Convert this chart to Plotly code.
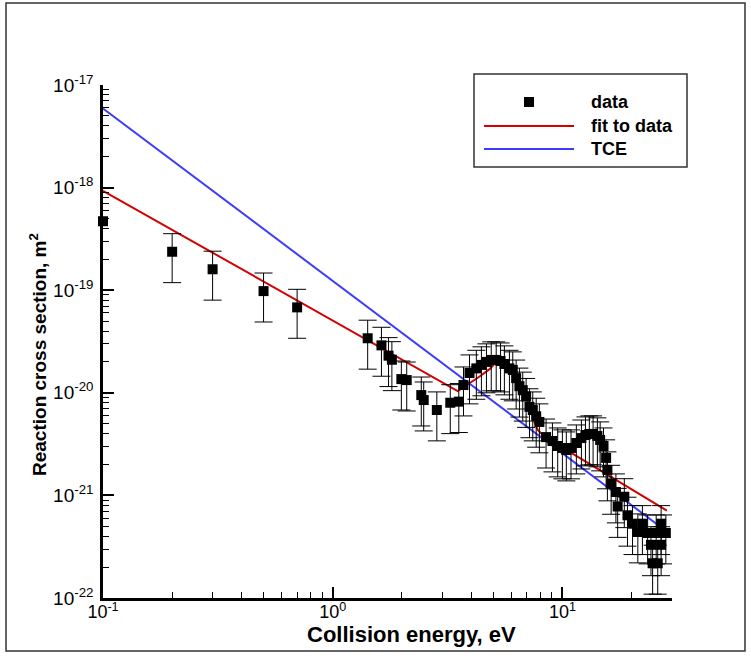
import plotly.graph_objects as go
import math

# ---------------- data ----------------
energy = [0.1, 0.2, 0.3, 0.5, 0.7,
          1.42, 1.63, 1.75, 1.81, 1.99, 2.10, 2.43, 2.49, 2.84, 3.25, 3.54,
          3.71, 3.94, 4.22, 4.44, 4.67, 4.90, 5.15, 5.38, 5.59, 5.88, 6.08,
          6.29, 6.50, 6.72, 6.95, 7.19, 7.43, 7.69, 7.94, 8.49,
          9.05, 9.54, 10.0, 10.4, 10.9, 11.5, 12.1, 12.6, 13.1, 13.6, 14.2,
          14.6, 15.1, 15.5, 15.7, 16.3, 17.1, 17.4, 18.6, 19.2, 20.2, 21.3,
          22.3, 23.5, 24.3, 24.7, 25.6, 26.0, 26.9, 26.9, 28.2]
sigma = [4.7e-19, 2.37e-19, 1.6e-19, 9.8e-20, 6.8e-20,
         3.4e-20, 2.9e-20, 2.3e-20, 2.1e-20, 1.36e-20, 1.33e-20, 9.5e-21, 8.5e-21,
         6.8e-21, 8.0e-21, 8.2e-21,
         1.19e-20, 1.56e-20, 1.73e-20, 1.87e-20, 2.0e-20, 2.09e-20, 2.09e-20,
         2.04e-20, 1.91e-20, 1.73e-20, 1.67e-20, 1.39e-20, 1.16e-20, 1.06e-20,
         9.2e-21, 7.3e-21, 6.8e-21, 5.9e-21, 5.2e-21, 3.7e-21,
         3.39e-21, 3.03e-21, 2.9e-21, 2.77e-21, 2.9e-21, 3.24e-21, 3.62e-21,
         3.88e-21, 3.97e-21, 3.97e-21, 3.8e-21, 3.47e-21, 3.03e-21, 2.32e-21,
         1.77e-21, 1.31e-21, 1.08e-21, 7.8e-22, 9.7e-22, 6.4e-22, 5.3e-22,
         4.4e-22, 5.3e-22, 4.3e-22, 3.3e-22, 2.18e-22, 4.3e-22, 2.18e-22,
         5.3e-22, 3.3e-22, 4.3e-22]
error_percent = 50

fit_energy = [0.1, 3.5, 4.36, 4.82, 5.28, 5.88, 6.5, 6.95, 7.31, 7.55, 7.81,
              8.21, 9.07, 28.5]
fit_sigma = [9.3e-19, 1.04e-20, 1.44e-20, 1.7e-20, 2.12e-20, 1.73e-20, 1.19e-20,
             9.2e-21, 6.8e-21, 5.2e-21, 4.34e-21, 3.88e-21, 3.34e-21, 7.1e-22]

tce_energy = [0.1, 29.0]
tce_sigma = [5.9e-18, 4.3e-22]

x_tickvals = [0.1, 1, 10]
x_ticktext = ["10<sup>-1</sup>", "10<sup>0</sup>", "10<sup>1</sup>"]
y_tickvals = [1e-22, 1e-21, 1e-20, 1e-19, 1e-18, 1e-17]
y_ticktext = ["10<sup>-22</sup>", "10<sup>-21</sup>", "10<sup>-20</sup>",
              "10<sup>-19</sup>", "10<sup>-18</sup>", "10<sup>-17</sup>"]

legend_labels = ["data", "fit to data", "TCE"]

FONT = "Liberation Sans, Arial, Helvetica, sans-serif"
RED = "#d40000"
BLUE = "#3c3cff"

fig = go.Figure()

fig.add_trace(go.Scatter(x=fit_energy, y=fit_sigma, mode="lines",
                         line=dict(color=RED, width=2), name=legend_labels[1],
                         showlegend=False))
fig.add_trace(go.Scatter(x=tce_energy, y=tce_sigma, mode="lines",
                         line=dict(color=BLUE, width=2), name=legend_labels[2],
                         showlegend=False))
# data with error bars
fig.add_trace(go.Scatter(x=energy[1:], y=sigma[1:], mode="markers",
                         marker=dict(symbol="square", size=10, color="black"),
                         error_y=dict(type="percent", value=error_percent,
                                      color="black", thickness=1, width=9),
                         name=legend_labels[0], showlegend=False,
                         cliponaxis=False))
fig.add_trace(go.Scatter(x=energy[:1], y=sigma[:1], mode="markers",
                         marker=dict(symbol="square", size=10, color="black"),
                         name=legend_labels[0], showlegend=False,
                         cliponaxis=False))

x_minor = [m * 10 ** e for e in range(-1, 2) for m in range(2, 10) if m * 10 ** e <= 30]
y_minor = [m * 10.0 ** e for e in range(-22, -17) for m in range(2, 10)]

fig.update_xaxes(type="log", range=[-1, math.log10(30)],
                 tickmode="array", tickvals=x_tickvals, ticktext=x_ticktext,
                 ticks="inside", ticklen=11, tickwidth=2, tickcolor="black",
                 minor=dict(tickmode="array", tickvals=x_minor, ticks="inside",
                            ticklen=6, tickwidth=1, tickcolor="black"),
                 showline=True, linecolor="black", linewidth=2.5,
                 showgrid=False, zeroline=False, ticklabelstandoff=-4,
                 tickfont=dict(family=FONT, size=18, color="black"))
fig.update_yaxes(type="log", range=[-22, -17],
                 tickmode="array", tickvals=y_tickvals, ticktext=y_ticktext,
                 ticks="inside", ticklen=11, tickwidth=2, tickcolor="black",
                 minor=dict(tickmode="array", tickvals=y_minor, ticks="inside",
                            ticklen=6, tickwidth=1, tickcolor="black"),
                 showline=True, linecolor="black", linewidth=2.5,
                 showgrid=False, zeroline=False, ticklabelstandoff=3,
                 tickfont=dict(family=FONT, size=19, color="black"))

# ---- layout geometry helpers (plot area 103..672 x 85..598 px) ----
L, R, T, B = 103, 672, 85, 598
def px(xp):
    return (xp - L) / (R - L)
def py(yp):
    return (B - yp) / (B - T)

shapes = [
    # outer frame
    dict(type="rect", xref="paper", yref="paper", x0=px(6), x1=px(745),
         y0=py(651), y1=py(3), line=dict(color="#333333", width=1.5)),
    # legend box
    dict(type="rect", xref="paper", yref="paper", x0=px(474), x1=px(687),
         y0=py(167), y1=py(74), line=dict(color="#333333", width=1.5),
         fillcolor="white"),
    # legend marker
    dict(type="rect", xref="paper", yref="paper", x0=px(524), x1=px(534),
         y0=py(107), y1=py(97), line=dict(width=0), fillcolor="black"),
    # legend lines
    dict(type="line", xref="paper", yref="paper", x0=px(484), x1=px(574),
         y0=py(126), y1=py(126), line=dict(color=RED, width=2)),
    dict(type="line", xref="paper", yref="paper", x0=px(484), x1=px(574),
         y0=py(149), y1=py(149), line=dict(color=BLUE, width=2)),
]

annotations = [
    dict(text="<b>Collision energy, eV</b>", xref="paper", yref="paper",
         x=px(411), y=py(634), xanchor="center", yanchor="middle",
         showarrow=False, font=dict(family=FONT, size=22, color="black")),
    dict(text="<b>Reaction cross section, m<sup>2</sup></b>", xref="paper",
         yref="paper", x=px(38), y=py(355), xanchor="center", yanchor="middle",
         textangle=-90, showarrow=False,
         font=dict(family=FONT, size=19, color="black")),
]
for lbl, yy in zip(legend_labels, [102, 126, 149]):
    annotations.append(dict(text="<b>" + lbl + "</b>", xref="paper", yref="paper",
                            x=px(589), y=py(yy), xanchor="left", yanchor="middle",
                            showarrow=False,
                            font=dict(family=FONT, size=18, color="black")))

fig.update_layout(width=751, height=666,
                  margin=dict(l=L, r=751 - R, t=T, b=666 - B, autoexpand=False),
                  paper_bgcolor="white", plot_bgcolor="white",
                  showlegend=False, shapes=shapes, annotations=annotations,
                  font=dict(family=FONT, color="black"))

fig.write_html("out.html", config={"displayModeBar": False},
               post_script="document.body.style.margin='0';document.body.style.overflow='hidden';")
